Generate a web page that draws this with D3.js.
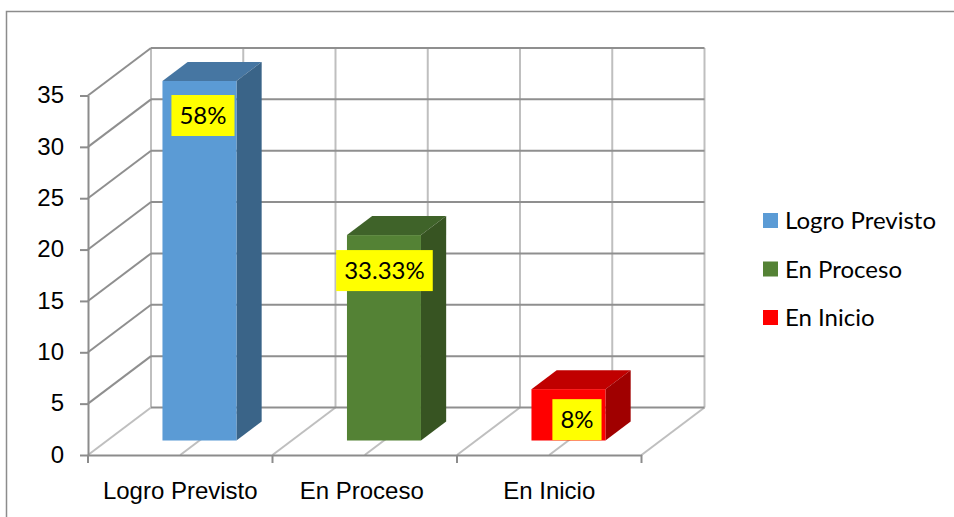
<!DOCTYPE html>
<html>
<head>
<meta charset="utf-8">
<script src="https://cdn.jsdelivr.net/npm/d3@7"></script>
<style>
  html, body { margin: 0; padding: 0; background: #fff; }
  svg { display: block; font-family: Lato, "Open Sans", sans-serif; }
  .axis text { font-size: 24px; fill: #000; }
  .axis path, .axis line { stroke: #8c8c8c; stroke-width: 2; }
</style>
</head>
<body>
<div id="chart"></div>
<script>
// data
const categories = ["Logro Previsto", "En Proceso", "En Inicio"];
const values = [35, 20, 5];
const labels = ["58%", "33.33%", "8%"];
const yTicks = [0, 5, 10, 15, 20, 25, 30, 35];

const colors = ["#5b9bd5", "#548235", "#ff0000"];
const topColors = ["#4676a2", "#3f6329", "#c00000"];
const sideColors = ["#3a6488", "#375422", "#a00000"];

const width = 954,
    height = 517,
    floorY = 455,
    depthX = 63,
    depthY = 47.5;

const x = d3.scaleBand().domain(categories).range([88, 641.5]);
const y = d3.scaleLinear().domain([0, 35]).range([floorY, 95.5]);
const halfSteps = d3.range(0, 7).map(i => x.range()[0] + i * x.bandwidth() / 2);

// label boxes don't sit at the same place on each bar
const labelShift = [{dx: 3.5, dy: 14}, {dx: 0.5, dy: 15}, {dx: 8.5, dy: 10}];

const svg = d3.select("#chart")
    .append("svg")
    .attr("width", width)
    .attr("height", height);

// outer frame, only top and left are in the picture
svg.append("path")
    .attr("d", `M6.5,${height} V11.5 H${width}`)
    .attr("fill", "none")
    .attr("stroke", "#8c8c8c")
    .attr("stroke-width", 1.5);

const light = "#bfbfbf", dark = "#8f8f8f";

// floor diagonals and back wall verticals
svg.append("g")
    .attr("stroke", light)
    .attr("stroke-width", 2)
    .selectAll("line")
    .data(halfSteps)
    .join("line")
    .attr("x1", d => d)
    .attr("y1", floorY)
    .attr("x2", d => d + depthX)
    .attr("y2", floorY - depthY);

svg.append("g")
    .attr("stroke", light)
    .attr("stroke-width", 2)
    .selectAll("line")
    .data(halfSteps)
    .join("line")
    .attr("x1", d => d + depthX)
    .attr("y1", floorY - depthY)
    .attr("x2", d => d + depthX)
    .attr("y2", y(35) - depthY);

// back wall horizontals and side wall diagonals
const wall = svg.append("g")
    .attr("stroke", dark)
    .attr("stroke-width", 2)
    .selectAll("g")
    .data(yTicks)
    .join("g");

wall.append("line")
    .attr("x1", x.range()[0] + depthX)
    .attr("x2", x.range()[1] + depthX)
    .attr("y1", d => y(d) - depthY)
    .attr("y2", d => y(d) - depthY);

wall.filter(d => d > 0).append("line")
    .attr("x1", x.range()[0])
    .attr("x2", x.range()[0] + depthX)
    .attr("y1", d => y(d))
    .attr("y2", d => y(d) - depthY);

// axes
svg.append("g")
    .attr("class", "axis")
    .attr("transform", `translate(${x.range()[0]},0)`)
    .call(d3.axisLeft(y).tickValues(yTicks).tickSize(8).tickPadding(16).tickSizeOuter(0))
    .selectAll("text")
    .attr("dy", "0.3em");

const xAxis = svg.append("g")
    .attr("class", "axis")
    .attr("transform", `translate(0,${floorY})`)
    .call(d3.axisBottom(x).tickSize(0).tickPadding(27));

xAxis.selectAll("text").attr("dx", (d, i) => i == 1 ? -3 : 0);

xAxis.selectAll(".edge")
    .data(d3.range(0, 4))
    .join("line")
    .attr("class", "edge")
    .attr("x1", d => x.range()[0] + d * x.bandwidth())
    .attr("x2", d => x.range()[0] + d * x.bandwidth())
    .attr("y1", 0)
    .attr("y2", 8);

// 3d bars, front face sits 0.305 into the depth and runs to 0.705
const frontX = depthX * 0.305, frontY = depthY * 0.305;
const barDX = depthX * 0.4, barDY = depthY * 0.4;
const barW = 74;

const bars = svg.append("g")
    .selectAll("g")
    .data(categories.map((c, i) => ({category: c, value: values[i], i: i})))
    .join("g")
    .attr("transform", d => `translate(${x(d.category) + frontX + (x.bandwidth() - barW) / 2},${-frontY})`);

bars.append("path")
    .attr("fill", d => topColors[d.i])
    .attr("d", d => `M0,${y(d.value)} l${barDX},${-barDY} h${barW} l${-barDX},${barDY} Z`);

bars.append("path")
    .attr("fill", d => sideColors[d.i])
    .attr("d", d => `M${barW},${y(d.value)} l${barDX},${-barDY} V${y(0) - barDY} l${-barDX},${barDY} Z`);

bars.append("rect")
    .attr("fill", d => colors[d.i])
    .attr("y", d => y(d.value))
    .attr("width", barW)
    .attr("height", d => y(0) - y(d.value));

// yellow value labels
const labelG = bars.append("g")
    .attr("transform", d => `translate(${barW / 2 + labelShift[d.i].dx},${y(d.value) + labelShift[d.i].dy})`);

const labelText = labelG.append("text")
    .attr("text-anchor", "middle")
    .attr("y", 29)
    .attr("font-size", 24)
    .attr("fill", "#000")
    .text(d => labels[d.i]);

labelG.insert("rect", "text")
    .attr("fill", "#ffff00")
    .attr("height", 41)
    .attr("width", function(d, i) { return labelText.nodes()[i].getComputedTextLength() + 16; })
    .attr("x", function(d, i) { return -(labelText.nodes()[i].getComputedTextLength() + 16) / 2; });

// legend
const legend = svg.append("g")
    .selectAll("g")
    .data(categories)
    .join("g")
    .attr("transform", (d, i) => `translate(763,${213 + i * 48.5})`);

legend.append("rect")
    .attr("width", 15)
    .attr("height", 15)
    .attr("fill", (d, i) => colors[i]);

legend.append("text")
    .attr("x", 22)
    .attr("y", 16)
    .attr("font-size", 24)
    .attr("fill", "#000")
    .text(d => d);
</script>
</body>
</html>
